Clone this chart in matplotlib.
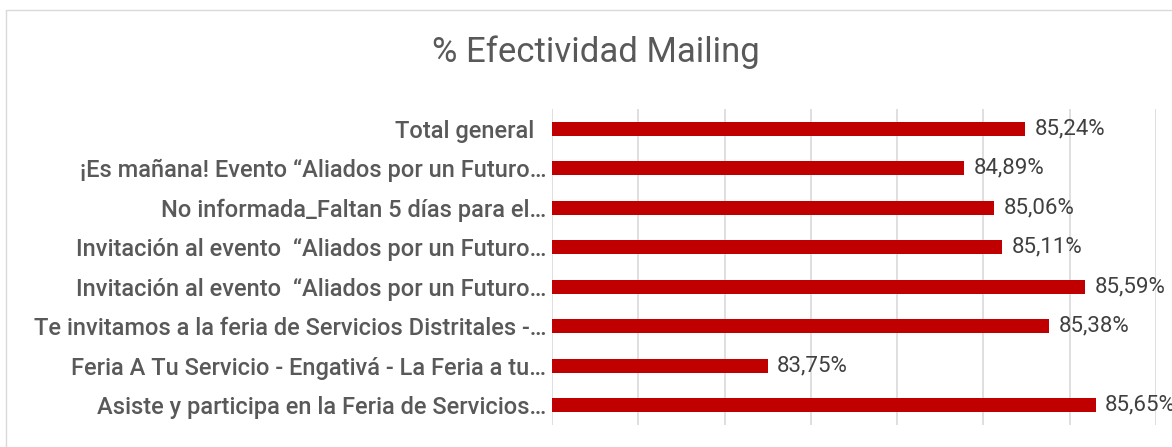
import matplotlib.pyplot as plt
from matplotlib.patches import Rectangle

# data (top to bottom)
categories = [
    'Total general  ',
    '¡Es mañana! Evento “Aliados por un Futuro…',
    'No informada_Faltan 5 días para el…',
    'Invitación al evento  “Aliados por un Futuro…',
    'Invitación al evento  “Aliados por un Futuro…',
    'Te invitamos a la feria de Servicios Distritales -…',
    'Feria A Tu Servicio - Engativá - La Feria a tu…',
    'Asiste y participa en la Feria de Servicios…',
]
values = [85.24, 84.89, 85.06, 85.11, 85.59, 85.38, 83.75, 85.65]
x_ticks = [82.5, 83.0, 83.5, 84.0, 84.5, 85.0, 85.5, 86.0]

plt.rcParams['font.family'] = ['Roboto', 'DejaVu Sans']

fig = plt.figure(figsize=(11.72, 4.47), dpi=100)
# light chart-area border (only top and left edges fall inside the crop)
fig.patches.append(Rectangle((6 / 1172, -0.1), 1.2, 1.1 - 10 / 447,
                             transform=fig.transFigure, fill=False,
                             edgecolor='#D9D9D9', linewidth=1.0))

ax = fig.add_axes([552 / 1172, 22 / 447, 604 / 1172, 316 / 447])
y = list(range(len(categories)))
ax.barh(y, [v - x_ticks[0] for v in values], left=x_ticks[0], height=0.36,
        color='#C00000', zorder=3)

for yi, v in zip(y, values):
    ax.text(v + 0.055, yi, f'{v:.2f}'.replace('.', ',') + '%', va='center',
            ha='left', fontsize=16, color='#404040', zorder=4, clip_on=False)

ax.set_xlim(x_ticks[0], x_ticks[-1])
ax.set_ylim(len(categories) - 0.5, -0.5)
ax.set_xticks(x_ticks)
ax.set_xticklabels([])
ax.tick_params(axis='x', length=0)
ax.tick_params(axis='y', length=0, pad=4)
ax.set_yticks(y)
ax.set_yticklabels(categories, fontsize=17, color='#595959', fontweight='medium')
ax.grid(axis='x', color='#D9D9D9', linewidth=1.2, zorder=0)
for s in ax.spines.values():
    s.set_visible(False)

fig.text(596 / 1172, 1 - 52 / 447, '% Efectividad Mailing', ha='center',
         va='center', fontsize=25, color='#595959')

fig.savefig('out.png', dpi=100)
